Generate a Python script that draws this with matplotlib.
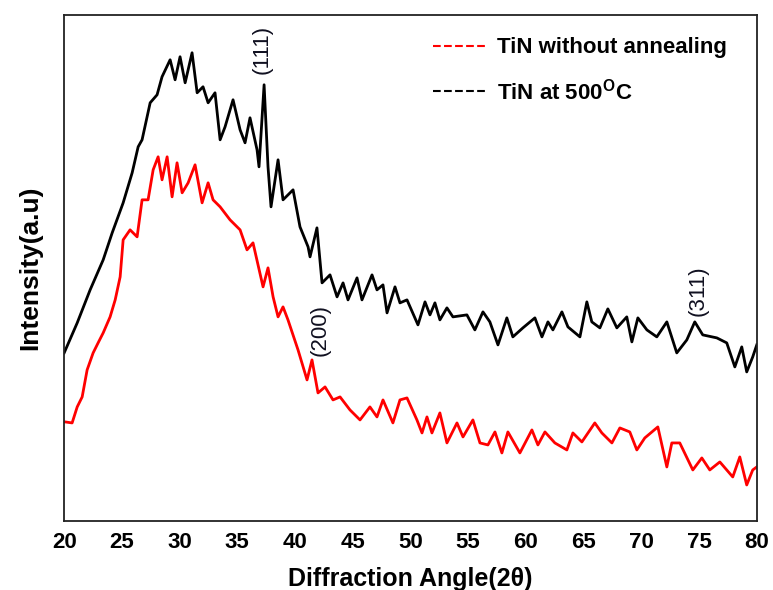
import matplotlib.pyplot as plt
from matplotlib.lines import Line2D

plt.rcParams['font.family'] = ['Liberation Sans', 'DejaVu Sans']
plt.rcParams['mathtext.fontset'] = 'custom'
plt.rcParams['mathtext.rm'] = 'Liberation Sans:bold'
plt.rcParams['mathtext.bf'] = 'Liberation Sans:bold'

# TiN at 500 C (black)
ang_500 = [20.0, 21.13, 22.25, 23.38, 24.16, 25.11, 25.89, 26.41, 26.75, 27.45,
           28.05, 28.48, 29.18, 29.61, 30.04, 30.48, 31.08, 31.52, 32.03, 32.47,
           33.07, 33.51, 33.94, 34.63, 35.24, 35.67, 36.10, 36.71, 36.88, 37.32,
           37.66, 37.92, 38.53, 38.96, 39.83, 40.43, 41.13, 41.30, 41.90, 42.34,
           43.03, 43.64, 44.16, 44.59, 45.37, 45.80, 46.67, 47.10, 47.62, 47.97,
           48.66, 49.09, 49.70, 50.65, 51.26, 51.69, 52.12, 52.55, 53.16, 53.68,
           54.89, 55.58, 56.28, 56.88, 57.58, 58.35, 58.87, 59.74, 60.78, 61.39,
           61.91, 62.34, 63.12, 63.64, 64.68, 65.28, 65.71, 66.41, 67.10, 67.88,
           68.74, 69.18, 69.70, 70.48, 71.34, 72.21, 73.07, 73.94, 74.63, 75.32,
           76.54, 77.40, 78.10, 78.70, 79.13, 79.65, 80.0]
int_500 = [168, 198, 231, 261, 288, 318, 348, 374, 381, 418,
           426, 444, 461, 441, 464, 438, 468, 428, 434, 418,
           428, 381, 394, 421, 391, 378, 403, 371, 354, 436,
           354, 314, 361, 321, 331, 294, 274, 264, 293, 238,
           246, 224, 238, 221, 243, 221, 246, 231, 236, 208,
           234, 218, 221, 196, 219, 206, 218, 201, 213, 204,
           206, 191, 209, 199, 176, 203, 184, 193, 203, 184,
           199, 191, 209, 194, 184, 219, 199, 193, 212, 193,
           204, 179, 203, 191, 184, 199, 168, 181, 199, 186,
           183, 178, 154, 174, 149, 164, 176]

# TiN without annealing (red)
ang_raw = [20.09, 20.69, 21.13, 21.56, 21.99, 22.51, 22.94, 23.38, 23.98, 24.42,
           24.85, 25.11, 25.71, 26.32, 26.75, 27.27, 27.71, 28.14, 28.48, 28.92,
           29.35, 29.78, 30.22, 30.74, 31.34, 31.95, 32.47, 32.90, 33.51, 34.37,
           35.24, 35.84, 36.36, 37.23, 37.66, 38.10, 38.53, 38.96, 39.39, 40.26,
           41.04, 41.47, 41.99, 42.60, 43.29, 43.90, 44.76, 45.63, 46.49, 47.10,
           47.62, 48.48, 49.09, 49.70, 50.56, 51.00, 51.43, 51.86, 52.55, 53.16,
           54.03, 54.55, 55.41, 56.02, 56.71, 57.32, 57.92, 58.44, 59.48, 60.52,
           61.04, 61.65, 62.51, 63.55, 64.07, 64.85, 65.97, 66.58, 67.45, 68.14,
           69.00, 69.61, 70.30, 71.43, 72.21, 72.64, 73.33, 74.46, 75.24, 75.93,
           76.80, 77.92, 78.53, 79.13, 79.65, 80.0]
int_raw = [99, 98, 114, 124, 151, 168, 178, 188, 204, 221,
           244, 281, 291, 284, 321, 321, 351, 364, 341, 364,
           324, 358, 328, 338, 356, 318, 338, 321, 314, 301,
           291, 271, 278, 234, 253, 224, 204, 214, 201, 171,
           141, 161, 128, 134, 121, 124, 111, 101, 114, 104,
           121, 98, 121, 123, 101, 88, 104, 88, 108, 78,
           98, 84, 101, 78, 76, 89, 68, 89, 68, 91,
           76, 89, 78, 71, 88, 79, 98, 88, 78, 93,
           89, 71, 83, 94, 54, 78, 78, 51, 63, 51,
           59, 44, 64, 36, 51, 54]

peak_labels = ['(111)', '(200)', '(311)']
peak_x = [37.14, 42.16, 74.89]
peak_y = [471, 191, 230]

fig = plt.figure(figsize=(7.73, 5.90), dpi=100)
ax = fig.add_axes([0.083, 0.117, 0.896, 0.858])

ax.plot(ang_raw, int_raw, color='red', lw=2.0)
ax.plot(ang_500, int_500, color='black', lw=2.0)

for lab, px, py in zip(peak_labels, peak_x, peak_y):
    ax.text(px, py, lab, rotation=90, ha='center', va='center', fontsize=16, color='#101020')

ax.set_xlim(20, 80)
ax.set_ylim(0, 506)
ax.set_xticks(range(20, 81, 5))
ax.set_yticks([])
ax.tick_params(axis='x', length=0, pad=8, labelsize=16)
for t in ax.get_xticklabels():
    t.set_fontweight('bold')
for s in ax.spines.values():
    s.set_linewidth(1.3)
    s.set_color('#222222')

ax.set_xlabel('Diffraction Angle(2θ)', fontsize=18, fontweight='bold', labelpad=10)
ax.set_ylabel('Intensity(a.u)', fontsize=19, fontweight='bold', labelpad=16)

handles = [Line2D([], [], color='red', ls='--', lw=1.5),
           Line2D([], [], color='black', ls='--', lw=1.5)]
ax.legend(handles, ['TiN without annealing', r'TiN at 500$^{\mathrm{O}}$C'],
          loc='upper right', bbox_to_anchor=(0.985, 0.995), frameon=False,
          prop={'weight': 'bold', 'size': 16}, handlelength=2.4, labelspacing=0.9,
          handletextpad=0.45)

fig.savefig('out.png', dpi=100)
